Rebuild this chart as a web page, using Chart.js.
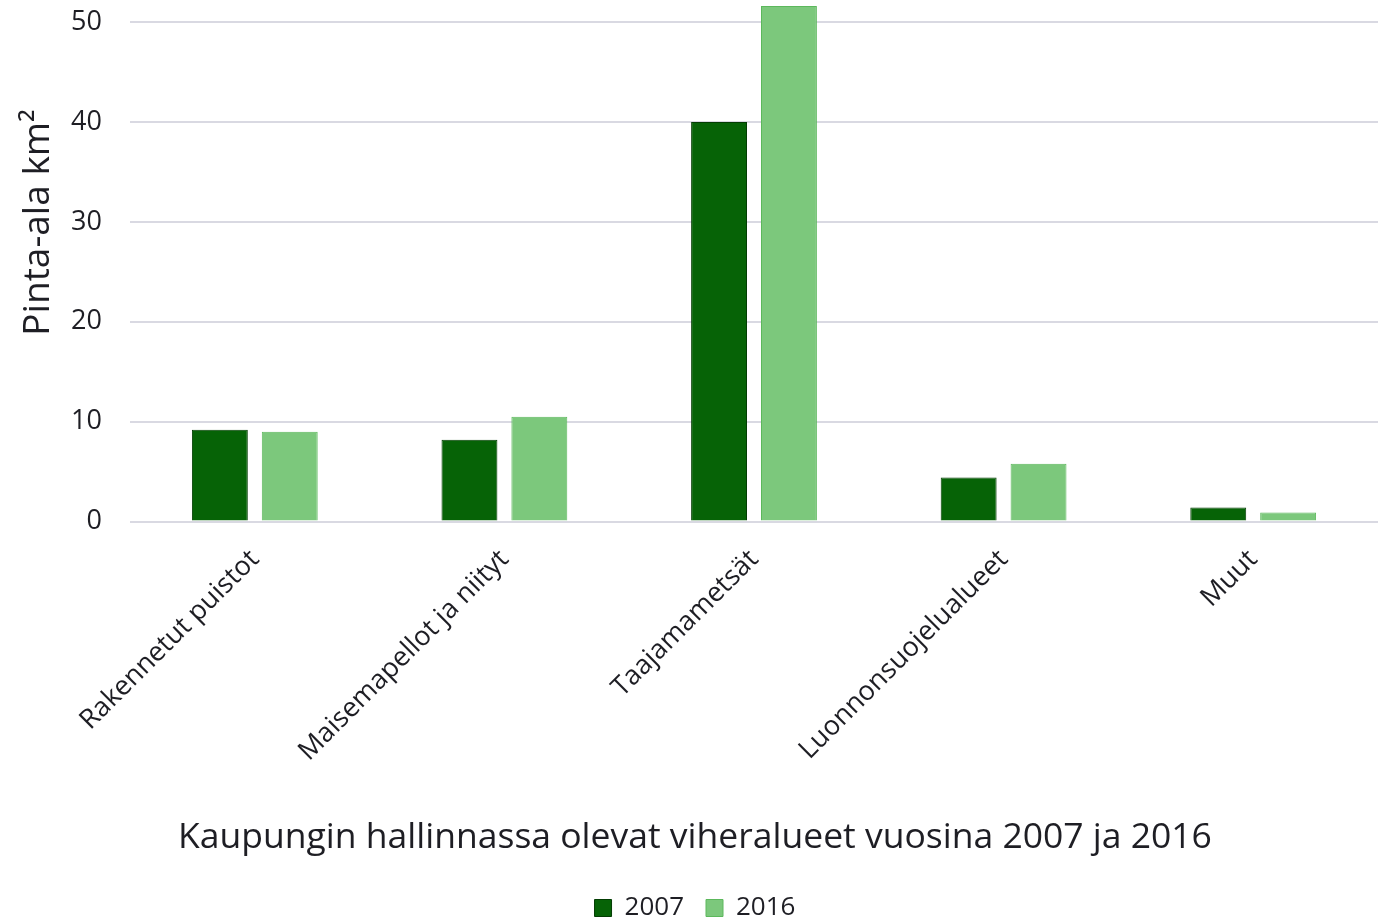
<!DOCTYPE html>
<html>
<head>
<meta charset="utf-8">
<script src="https://cdn.jsdelivr.net/npm/chart.js@4/dist/chart.umd.min.js"></script>
<style>
  html, body { margin: 0; padding: 0; background: #fff; }
  #wrap { width: 1378px; height: 922px; }
</style>
</head>
<body>
<div id="wrap"><canvas id="chart" width="1378" height="922"></canvas></div>
<script>
const categories = ['Rakennetut puistot', 'Maisemapellot ja niityt', 'Taajamametsät', 'Luonnonsuojelualueet', 'Muut'];
const values2007 = [9.2, 8.2, 40.0, 4.4, 1.4];
const values2016 = [9.0, 10.5, 51.6, 5.8, 0.9];
const yTicks = [0, 10, 20, 30, 40, 50];

const textColor = '#1e1e24';

new Chart(document.getElementById('chart').getContext('2d'), {
    type: 'bar',
    data: {
        labels: categories,
        datasets: [
            {
                label: '2007',
                data: values2007,
                backgroundColor: '#066306',
                borderColor: '#033d03',
                borderWidth: 1
            },
            {
                label: '2016',
                data: values2016,
                backgroundColor: '#7cc87c',
                borderColor: '#5cb85c',
                borderWidth: 1
            }
        ]
    },
    options: {
        responsive: false,
        animation: false,
        layout: { padding: { top: 0, right: 0, left: 12, bottom: -9 } },
        datasets: {
            bar: { categoryPercentage: 0.56, barPercentage: 0.8 }
        },
        scales: {
            x: {
                afterFit: axis => {
                    // let rotated labels run under the y axis like the original
                    axis.paddingLeft = 0;
                    axis.paddingRight = 0;
                },
                grid: { display: false },
                border: { display: false },
                ticks: {
                    color: textColor,
                    font: { family: 'Open Sans', size: 27 },
                    maxRotation: 45,
                    minRotation: 45,
                    padding: 14
                }
            },
            y: {
                min: 0,
                max: 52.2,
                afterBuildTicks: axis => {
                    axis.ticks = yTicks.map(v => ({ value: v }));
                },
                afterFit: axis => {
                    axis.paddingTop = 0;
                    axis.width = 118;
                },
                grid: { color: '#d9d9e2', lineWidth: 2, drawTicks: false },
                border: { display: false },
                ticks: {
                    color: textColor,
                    font: { family: 'Open Sans', size: 27 },
                    padding: 28
                },
                title: {
                    display: true,
                    // leading spaces nudge the title up, it sits above centre in the original
                    text: '        Pinta-ala km²',
                    color: textColor,
                    font: { family: 'Open Sans', size: 37 },
                    padding: { top: 4, bottom: 8 }
                }
            }
        },
        plugins: {
            title: {
                display: true,
                position: 'bottom',
                weight: 500,
                text: 'Kaupungin hallinnassa olevat viheralueet vuosina 2007 ja 2016',
                color: textColor,
                font: { family: 'Open Sans', size: 35.5, weight: 'normal' },
                padding: { top: 35, bottom: 14 }
            },
            legend: {
                position: 'bottom',
                weight: 1000,
                labels: {
                    color: textColor,
                    font: { family: 'Open Sans', size: 26 },
                    boxWidth: 17,
                    boxHeight: 17,
                    padding: 22
                }
            },
            tooltip: { enabled: false }
        }
    }
});
</script>
</body>
</html>
